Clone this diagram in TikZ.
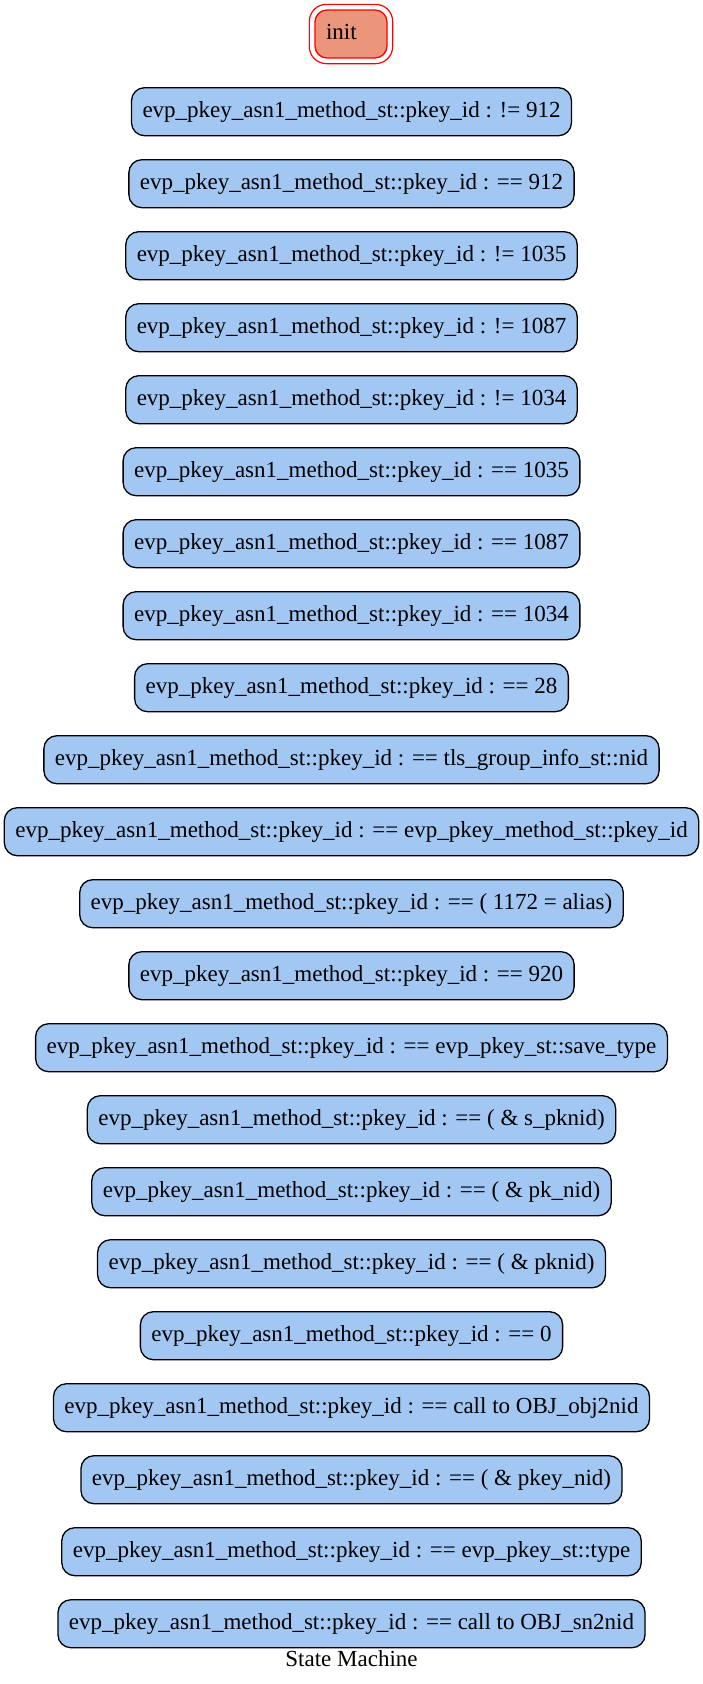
\documentclass[tikz,border=0pt]{standalone}
\usepackage{fontspec}
\setmainfont{Liberation Serif}
\usetikzlibrary{fit}
\definecolor{stateblue}{RGB}{161,199,242}
\definecolor{initfill}{RGB}{235,150,122}
\newcommand{\pkid}{evp\_pkey\_asn1\_method\_st::pkey\_id :}
\begin{document}
\begin{tikzpicture}[x=1pt,y=-1pt,
  every node/.style={font=\fontsize{23pt}{27pt}\selectfont},
  statebox/.style={draw=black, line width=1.3pt, fill=stateblue, rounded corners=13pt,
    minimum height=48pt, inner xsep=11pt, inner ysep=0pt, text height=16pt, text depth=5pt},
  initbox/.style={draw=red, line width=1.3pt, fill=initfill, rounded corners=12pt,
    minimum width=72pt, minimum height=48pt, text width=50pt, align=left,
    inner xsep=11pt, inner ysep=0pt, text height=16pt, text depth=5pt},
  initring/.style={draw=red, line width=1.2pt, rounded corners=17pt, inner sep=5pt}]
\useasboundingbox (0,0) rectangle (703,1684);
\node[initbox] (init) at (351,34) {init};
\node[initring, fit=(init)] (initouter) {};
\node[statebox] (n1)  at (351.5,111.7) {\pkid{} != 912};
\node[statebox] (n2)  at (351.5,183.7) {\pkid{} == 912};
\node[statebox] (n3)  at (351.5,255.7) {\pkid{} != 1035};
\node[statebox] (n4)  at (351.5,327.7) {\pkid{} != 1087};
\node[statebox] (n5)  at (351.5,399.7) {\pkid{} != 1034};
\node[statebox] (n6)  at (351.5,471.7) {\pkid{} == 1035};
\node[statebox] (n7)  at (351.5,543.7) {\pkid{} == 1087};
\node[statebox] (n8)  at (351.5,615.7) {\pkid{} == 1034};
\node[statebox] (n9)  at (351.5,687.7) {\pkid{} == 28};
\node[statebox] (n10) at (351.5,759.7) {\pkid{} == tls\_group\_info\_st::nid};
\node[statebox] (n11) at (351.5,831.7) {\pkid{} == evp\_pkey\_method\_st::pkey\_id};
\node[statebox] (n12) at (351.5,903.7) {\pkid{} == ( 1172 = alias)};
\node[statebox] (n13) at (351.5,975.7) {\pkid{} == 920};
\node[statebox] (n14) at (351.5,1047.7) {\pkid{} == evp\_pkey\_st::save\_type};
\node[statebox] (n15) at (351.5,1119.7) {\pkid{} == ( \& s\_pknid)};
\node[statebox] (n16) at (351.5,1191.7) {\pkid{} == ( \& pk\_nid)};
\node[statebox] (n17) at (351.5,1263.7) {\pkid{} == ( \& pknid)};
\node[statebox] (n18) at (351.5,1335.7) {\pkid{} == 0};
\node[statebox] (n19) at (351.5,1407.7) {\pkid{} == call to OBJ\_obj2nid};
\node[statebox] (n20) at (351.5,1479.7) {\pkid{} == ( \& pkey\_nid)};
\node[statebox] (n21) at (351.5,1551.7) {\pkid{} == evp\_pkey\_st::type};
\node[statebox] (n22) at (351.5,1623.7) {\pkid{} == call to OBJ\_sn2nid};
\node[anchor=base] (title) at (351.5,1666) {State Machine};
\end{tikzpicture}
\end{document}
